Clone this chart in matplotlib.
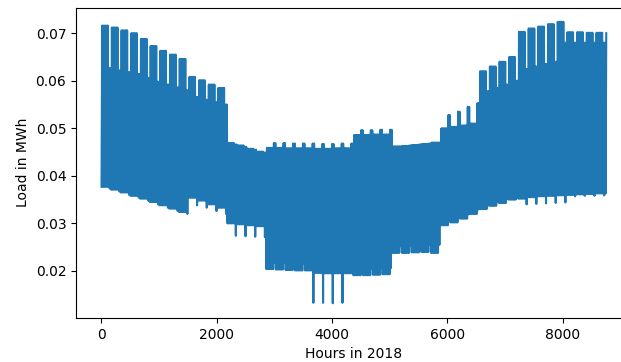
import numpy as np
import matplotlib.pyplot as plt

# weekly daily-peak / daily-low loads (MWh),
# weeks start on Monday 1 Jan 2018
peak_weekday = [0.0716, 0.0712, 0.0706, 0.0700, 0.0688, 0.0673, 0.0663, 0.0655, 0.0646,
                0.0608, 0.0601, 0.0592, 0.0585,
                0.0469, 0.0464, 0.0457, 0.0451,
                0.0459, 0.0459, 0.0458, 0.0458, 0.0458,
                0.0457, 0.0457, 0.0458, 0.0458,
                0.0486, 0.0486, 0.0487, 0.0487,
                0.0462, 0.0463, 0.0465, 0.0467, 0.0470,
                0.0500, 0.0503, 0.0506, 0.0510,
                0.0620, 0.0630, 0.0640, 0.0650,
                0.0703, 0.0710, 0.0714, 0.0719, 0.0724,
                0.0702, 0.0702, 0.0701, 0.0701, 0.0700]
# Saturday + Sunday peaks
peak_weekend = [0.0627, 0.0622, 0.0618, 0.0614, 0.0606, 0.0598, 0.0592, 0.0586, 0.0580,
                0.0566, 0.0560, 0.0555, 0.0550,
                0.0466, 0.0461, 0.0455, 0.0449,
                0.0469, 0.0469, 0.0468, 0.0468, 0.0468,
                0.0467, 0.0467, 0.0468, 0.0468,
                0.0496, 0.0496, 0.0497, 0.0497,
                0.0462, 0.0464, 0.0466, 0.0468, 0.0470,
                0.0528, 0.0535, 0.0545, 0.0553,
                0.0578, 0.0585, 0.0592, 0.0600,
                0.0625, 0.0630, 0.0635, 0.0640, 0.0680,
                0.0680, 0.0680, 0.0680, 0.0680, 0.0680]
low_weekday = [0.0377, 0.0371, 0.0365, 0.0358, 0.0352, 0.0345, 0.0338, 0.0331, 0.0324,
               0.0354, 0.0348, 0.0340, 0.0333,
               0.0300, 0.0298, 0.0296, 0.0294,
               0.0204, 0.0203, 0.0202, 0.0201, 0.0201,
               0.0196, 0.0195, 0.0195, 0.0195,
               0.0191, 0.0191, 0.0192, 0.0193,
               0.0238, 0.0238, 0.0239, 0.0240, 0.0238,
               0.0296, 0.0302, 0.0310, 0.0320,
               0.0330, 0.0337, 0.0343, 0.0350,
               0.0352, 0.0355, 0.0357, 0.0358, 0.0359,
               0.0360, 0.0361, 0.0362, 0.0363, 0.0363]
# Sunday lows
low_sunday = [0.0373, 0.0367, 0.0360, 0.0354, 0.0347, 0.0340, 0.0333, 0.0326, 0.0320,
              0.0338, 0.0333, 0.0326, 0.0320,
              0.0274, 0.0273, 0.0272, 0.0271,
              0.0217, 0.0217, 0.0216, 0.0216, 0.0133,
              0.0133, 0.0132, 0.0133, 0.0200,
              0.0205, 0.0205, 0.0206, 0.0206,
              0.0252, 0.0253, 0.0254, 0.0255, 0.0255,
              0.0305, 0.0311, 0.0319, 0.0329,
              0.0338, 0.0345, 0.0351, 0.0357,
              0.0340, 0.0341, 0.0342, 0.0343, 0.0344,
              0.0357, 0.0358, 0.0358, 0.0359, 0.0359]

days = np.arange(365)
week = days // 7
weekend = days % 7 >= 5
sunday = days % 7 == 6
peak = np.where(weekend, np.array(peak_weekend)[week], np.array(peak_weekday)[week])
low = np.where(sunday, np.array(low_sunday)[week], np.array(low_weekday)[week])

# one low (night) and one peak (day) point per day
hours = np.column_stack([days * 24 + 4, days * 24 + 16]).ravel()
load = np.column_stack([low, peak]).ravel()

fig = plt.figure(figsize=(6.21, 3.62), dpi=100)
ax = fig.add_axes([0.1224, 0.1215, 0.8953, 0.8577])
ax.plot(hours, load)
ax.set_xlim(-438, 9198)
ax.set_ylim(0.0101, 0.0754)
ax.set_xlabel('Hours in 2018')
ax.set_ylabel('Load in MWh')
fig.savefig('out.png', dpi=100)
